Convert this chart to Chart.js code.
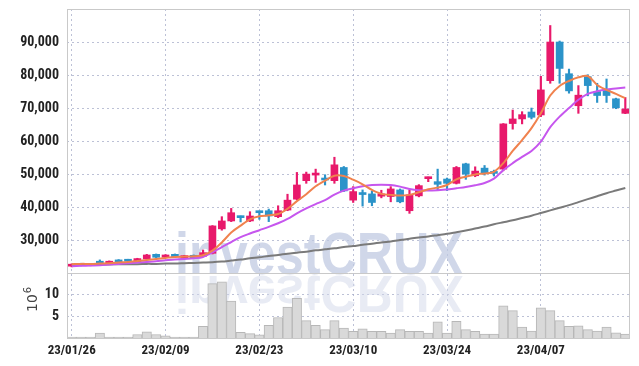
<!DOCTYPE html>
<html>
<head>
<meta charset="utf-8">
<script src="https://cdn.jsdelivr.net/npm/chart.js@4/dist/chart.umd.min.js"></script>
<style>
html,body{margin:0;padding:0;background:#fff;}
canvas{display:block;}
</style>
</head>
<body>
<canvas id="c" width="639" height="366"></canvas>
<script>
const dates = ["23/01/26","23/01/27","23/01/30","23/01/31","23/02/01","23/02/02","23/02/03","23/02/06","23/02/07","23/02/08",
"23/02/09","23/02/10","23/02/13","23/02/14","23/02/15","23/02/16","23/02/17","23/02/20","23/02/21","23/02/22",
"23/02/23","23/02/24","23/02/27","23/02/28","23/03/02","23/03/03","23/03/06","23/03/07","23/03/08","23/03/09",
"23/03/10","23/03/13","23/03/14","23/03/15","23/03/16","23/03/17","23/03/20","23/03/21","23/03/22","23/03/23",
"23/03/24","23/03/27","23/03/28","23/03/29","23/03/30","23/03/31","23/04/03","23/04/04","23/04/05","23/04/06",
"23/04/07","23/04/10","23/04/11","23/04/12","23/04/13","23/04/14","23/04/17","23/04/18","23/04/19","23/04/20"];

const opens = [22100,22900,22300,23300,23000,24000,23800,23400,24300,25700,
24800,25700,24500,25400,25100,26000,33400,35800,37100,35800,
38600,38900,37100,39100,42400,48000,49700,48700,48000,52000,
42100,44100,44000,43300,43200,45200,38900,43400,48600,47700,
48500,47200,53100,49500,51800,50700,51500,65300,66700,68800,
67900,78300,90000,80400,70700,79500,75000,75700,72800,68400];
const highs = [22800,23000,22900,24000,23700,24100,24200,24500,25700,25800,
25600,25800,25400,25500,27000,34400,37100,39600,37300,38600,
38800,39400,40400,43900,50500,50600,51500,49800,55100,52300,
46200,45200,44900,45100,46200,45500,45200,46800,49100,51500,
48800,52300,53300,52200,52600,51200,65300,69400,68900,70000,
79600,95000,90300,81800,76800,80100,77500,78800,73000,73200];
const lows = [21900,22200,22200,22300,22900,23300,23500,23300,24200,24700,
24700,24900,24400,24500,25000,25800,33000,35600,35500,35600,
36300,35600,36800,38900,42200,47200,47500,46700,47200,44700,
41400,40300,40400,42800,41600,41300,38100,43100,47700,45200,
45000,47000,48400,49200,49700,49400,51000,63600,65200,66700,
67400,77500,77500,74500,68400,73700,71700,71700,69800,68300];
const closes = [22700,22300,22800,23000,23600,23400,23600,24400,25500,24800,
25500,25000,25300,24600,26200,34300,35800,38300,36800,37300,
38300,37300,38900,42100,46700,50000,50300,48200,52800,44900,
44700,43800,41400,44000,45500,41600,43700,46500,48900,46900,
47200,52000,50000,50900,50200,50200,65200,66700,68000,67200,
75500,90000,82000,75200,73900,76800,73800,73800,70100,69700];

// volume in millions (10^6)
const volumes = [0.3,0.3,0.3,1.2,0.3,0.3,0.3,0.9,1.5,0.9,
0.6,0.3,0.3,0.3,2.8,12.6,13.0,8.6,1.4,1.1,
0.8,3.0,4.8,7.2,9.2,4.1,3.0,2.0,4.1,2.4,
1.6,2.2,1.6,1.6,1.2,2.0,1.6,1.6,1.2,3.8,
1.2,3.9,2.0,1.6,1.0,1.0,7.5,6.4,2.6,1.7,
7.0,6.4,4.1,2.8,2.9,2.0,1.7,2.6,1.3,1.0];

const maShort = [22700,22800,22800,22900,23000,23200,23400,23700,24000,24300,
24600,24900,25000,25100,25400,26800,29300,32300,34400,36300,
37200,37500,37900,39500,41800,43900,46300,48000,49500,49400,
48300,46900,45200,44000,43700,43500,43700,44500,45400,45900,
46700,48400,49200,49900,50200,50700,53300,57000,60300,63900,
68400,73800,76700,78200,79300,79700,77000,75500,74300,73000];
const maMid = [22100,22200,22300,22400,22600,22800,23000,23200,23400,23600,
23900,24100,24300,24500,24900,26300,27900,29400,30900,32000,
33000,34000,35100,36400,38100,39600,40900,42100,43800,45000,
45700,46300,46700,46800,46700,46200,45500,45100,45000,45100,
45300,45700,46100,46600,47300,48600,51200,53300,55200,57000,
59800,64200,67400,70000,72500,74300,75100,75600,75900,76200];
const maLong = [22500,22500,22600,22600,22600,22700,22700,22700,22800,22800,
22900,22900,23000,23100,23200,23300,23500,23800,24100,24500,
24800,25200,25500,25900,26200,26500,26900,27200,27500,27900,
28200,28600,28900,29300,29600,30000,30400,30800,31100,31500,
31900,32400,32900,33500,34100,34800,35400,36000,36700,37400,
38200,39000,39800,40600,41500,42400,43300,44200,45000,45800];

const priceTicks = [30000,40000,50000,60000,70000,80000,90000];
const volumeTicks = [5,10];
const labelEvery = 10;

const UP = '#e8196b', DOWN = '#2b93c9';
const candleColors = opens.map((o,i)=> closes[i] >= o ? UP : DOWN);

const FAM = '"Roboto Condensed","Liberation Sans Narrow","DejaVu Sans Condensed",sans-serif';
const yFont = {family:FAM, size:14, weight:'bold'};
const xFont = {family:FAM, size:13, weight:'bold'};
const gridColor = 'rgba(165,172,200,0.75)';

const fitLeft = (s)=>{ s.width = 67; s.paddingTop = 0; s.paddingBottom = 0; };

const watermark = {
  id:'watermark',
  beforeDatasetsDraw(chart){
    const ctx = chart.ctx;
    ctx.save();
    ctx.font = 'bold 59px "Liberation Sans", Arial, sans-serif';
    ctx.textBaseline = 'alphabetic';
    ctx.textAlign = 'left';
    ctx.fillStyle = 'rgba(190,199,224,0.72)';
    ctx.fillText('investCRUX', 175, 274, 288);
    ctx.translate(0, 276);
    ctx.scale(1, -0.88);
    ctx.fillStyle = 'rgba(210,216,233,0.5)';
    ctx.fillText('investCRUX', 175, 0, 288);
    ctx.restore();
  }
};

const frame = {
  id:'frame',
  afterDraw(chart){
    const ctx = chart.ctx, a = chart.chartArea;
    const sep = chart.scales.y.bottom;
    ctx.save();
    ctx.strokeStyle = '#c9c9c9';
    ctx.lineWidth = 1;
    ctx.strokeRect(Math.round(a.left)+0.5, Math.round(a.top)+0.5, Math.round(a.right-a.left)-1, Math.round(a.bottom-a.top));
    ctx.beginPath();
    ctx.moveTo(a.left, Math.round(sep)+0.5);
    ctx.lineTo(a.right, Math.round(sep)+0.5);
    ctx.stroke();
    // volume unit label 10^6
    ctx.fillStyle = '#444';
    ctx.translate(33, 312);
    ctx.rotate(-Math.PI/2);
    ctx.textBaseline = 'middle';
    ctx.textAlign = 'left';
    ctx.font = '14px "DejaVu Sans", sans-serif';
    ctx.fillText('10', 0, 0);
    const w = ctx.measureText('10').width;
    ctx.font = '10px "DejaVu Sans", sans-serif';
    ctx.fillText('6', w + 1, -5);
    ctx.restore();
  }
};

new Chart(document.getElementById('c'), {
  type:'bar',
  data:{
    labels: dates,
    datasets:[
      {type:'line', data:maShort, borderColor:'#f0824e', borderWidth:2, pointRadius:0, tension:0.3, yAxisID:'y', order:0},
      {type:'line', data:maMid, borderColor:'#c656ee', borderWidth:2, pointRadius:0, tension:0.3, yAxisID:'y', order:0},
      {type:'line', data:maLong, borderColor:'#7a7a7a', borderWidth:2, pointRadius:0, tension:0.3, yAxisID:'y', order:0},
      {type:'bar', data: opens.map((o,i)=>[Math.min(o,closes[i]), Math.max(o,closes[i])]), backgroundColor:candleColors,
        barThickness:7, minBarLength:2, grouped:false, yAxisID:'y', order:1},
      {type:'bar', data: lows.map((l,i)=>[l, highs[i]]), backgroundColor:candleColors,
        barThickness:1.5, grouped:false, yAxisID:'y', order:2},
      {type:'bar', data: volumes, backgroundColor:'#d9d9d9', borderColor:'#b7b7b7', borderWidth:1,
        barPercentage:1, categoryPercentage:1, grouped:false, yAxisID:'yv', order:3}
    ]
  },
  options:{
    responsive:false, animation:false, devicePixelRatio:1,
    layout:{padding:{top:9, right:9, bottom:2, left:0}},
    plugins:{legend:{display:false}, tooltip:{enabled:false}},
    scales:{
      x:{
        type:'category', offset:true,
        grid:{offset:false, color:gridColor, drawTicks:false},
        border:{display:false, dash:[2,3]},
        ticks:{autoSkip:false, maxRotation:0, padding:5, color:'#222', font:xFont,
          callback:function(v,i){ return i % labelEvery === 0 ? this.getLabelForValue(v) : null; }}
      },
      yv:{
        position:'left', stack:'panes', stackWeight:65, min:0, max:15,
        grid:{color:gridColor, drawTicks:false},
        border:{display:false, dash:[2,3]},
        ticks:{stepSize:5, padding:8, color:'#222', font:yFont,
          callback:(v)=> volumeTicks.includes(v) ? String(v) : null},
        afterFit: fitLeft
      },
      y:{
        position:'left', stack:'panes', stackWeight:263, min:20000, max:100000,
        grid:{color:gridColor, drawTicks:false},
        border:{display:false, dash:[2,3]},
        ticks:{stepSize:10000, padding:8, color:'#222', font:yFont,
          callback:(v)=> priceTicks.includes(v) ? v.toLocaleString('en-US') : null},
        afterFit: fitLeft
      }
    }
  },
  plugins:[watermark, frame]
});
</script>
</body>
</html>
